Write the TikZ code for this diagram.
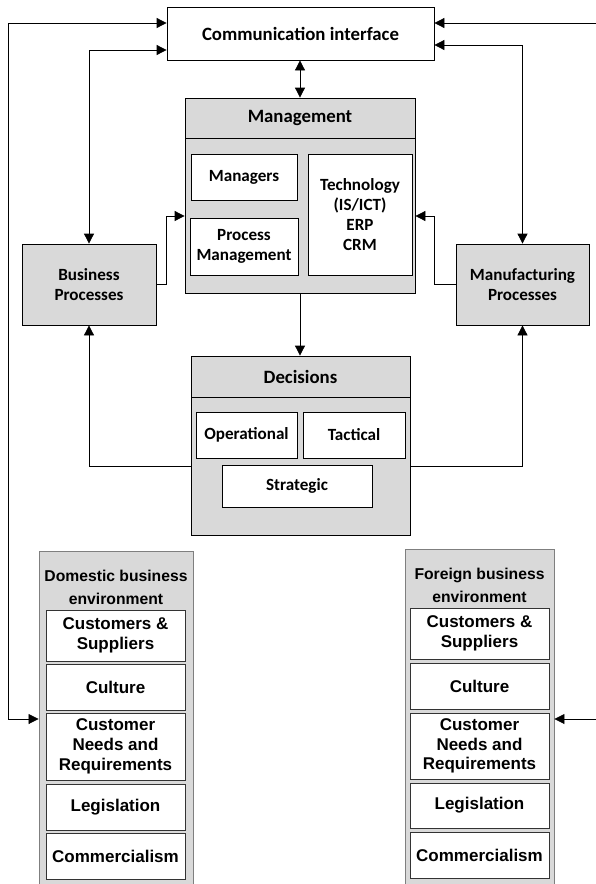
\documentclass[tikz,border=0pt]{standalone}
\usepackage{fontspec}
\setmainfont{Carlito}
\newfontfamily\arialfam{Liberation Sans}
\usetikzlibrary{arrows.meta}
\definecolor{boxgray}{HTML}{D9D9D9}
\definecolor{envrule}{HTML}{7F7F7F}
\tikzset{
  cbox/.style={draw, fill=white, line width=0.8pt, align=center, inner sep=0pt,
    font=\bfseries\fontsize{17.1}{19.8}\selectfont},
  gbox/.style={cbox, fill=boxgray},
  bigtext/.style={font=\bfseries\fontsize{18.8}{22}\selectfont},
  envbox/.style={draw=envrule, fill=boxgray, line width=0.9pt, inner sep=0pt},
  envhead/.style={align=center, inner sep=0pt,
    font=\arialfam\bfseries\fontsize{15.7}{23}\selectfont},
  envitem/.style={draw=black!80, fill=white, line width=0.8pt, align=center, inner sep=0pt,
    minimum width=139, font=\arialfam\bfseries\fontsize{17}{19.8}\selectfont},
  onearrow/.style={draw, line width=0.8pt, -{Triangle[length=10pt,width=10pt]}},
  twoarrow/.style={draw, line width=0.8pt, {Triangle[length=10pt,width=10pt]}-{Triangle[length=10pt,width=10pt]}}
}
\begin{document}
\begin{tikzpicture}[x=1pt, y=-1pt]
  \useasboundingbox (0,0) rectangle (595,884);
  \node[cbox, bigtext, minimum width=267, minimum height=53] (comm) at (300.5,33.5) {Communication interface};

  \node[gbox, minimum width=230, minimum height=195] (mgmt) at (300,195.5) {};
  \node[gbox, bigtext, minimum width=230, minimum height=40, anchor=north] (mgmthd) at (mgmt.north) {Management};
  \node[cbox, minimum width=106, minimum height=46] (managers) at (244,177) {Managers};
  \node[cbox, minimum width=108, minimum height=57] (procmgmt) at (244,246.5) {Process\\Management};
  \node[cbox, minimum width=104, minimum height=121] (tech) at (360,214.5) {Technology\\(IS/ICT)\\ERP\\CRM};

  \node[gbox, minimum width=134, minimum height=81] (bp) at (89,284.5) {Business\\Processes};
  \node[gbox, minimum width=133, minimum height=81] (mp) at (522.5,284.5) {Manufacturing\\Processes};

  \node[gbox, minimum width=219, minimum height=179] (dec) at (300.5,445.5) {};
  \node[gbox, bigtext, minimum width=219, minimum height=41, anchor=north] (dechd) at (dec.north) {Decisions};
  \node[cbox, minimum width=101, minimum height=46] (oper) at (246.5,435) {Operational};
  \node[cbox, minimum width=102, minimum height=46] (tact) at (354,435) {Tactical};
  \node[cbox, minimum width=150, minimum height=42] (strat) at (297,486) {Strategic};

  \node[envbox, minimum width=154, minimum height=344] (dom) at (116,723) {};
  \node[envhead] (domhd) at (116,587) {Domestic business\\environment};
  \node[envitem, minimum height=51] (domcust) at (115.5,635.5) {Customers \&\\Suppliers};
  \node[envitem, minimum height=46] (domcult) at (115.5,687) {Culture};
  \node[envitem, minimum height=67] (domneeds) at (115.5,746.5) {Customer\\Needs and\\Requirements};
  \node[envitem, minimum height=46] (domlegis) at (115.5,807) {Legislation};
  \node[envitem, minimum height=46] (domcomm) at (115.5,856) {Commercialism};

  \node[envbox, minimum width=149, minimum height=346] (for) at (479.5,722) {};
  \node[envhead] (forhd) at (479.5,585) {Foreign business\\environment};
  \node[envitem, minimum height=51] (forcust) at (479.5,633.5) {Customers \&\\Suppliers};
  \node[envitem, minimum height=46] (forcult) at (479.5,686) {Culture};
  \node[envitem, minimum height=66] (forneeds) at (479.5,746) {Customer\\Needs and\\Requirements};
  \node[envitem, minimum height=45] (forlegis) at (479.5,805.5) {Legislation};
  \node[envitem, minimum height=46] (forcomm) at (479.5,855) {Commercialism};

  \coordinate (lefttrail) at (8,719);
  \coordinate (righttrail) at (598,719);

  \draw[twoarrow] (mgmt.north |- comm.south) -- (mgmt.north);
  \draw[twoarrow] (comm.west |- 0,50) -| (bp.north);
  \draw[twoarrow] (comm.east |- 0,45) -| (mp.north);
  \draw[twoarrow] (comm.west |- 0,23) -| (lefttrail) -- (dom.west |- lefttrail);
  \draw[twoarrow] (comm.east |- 0,23) -| (righttrail) -- (for.east |- righttrail);
  \draw[onearrow] (bp.east) -- ++(10,0) |- (mgmt.west |- 0,216);
  \draw[onearrow] (mp.west) -- ++(-21,0) |- (mgmt.east |- 0,216);
  \draw[onearrow] (mgmt.south) -- (mgmt.south |- dec.north);
  \draw[onearrow] (dec.west |- 0,466) -| (bp.south);
  \draw[onearrow] (dec.east |- 0,466) -| (mp.south);
\end{tikzpicture}
\end{document}
